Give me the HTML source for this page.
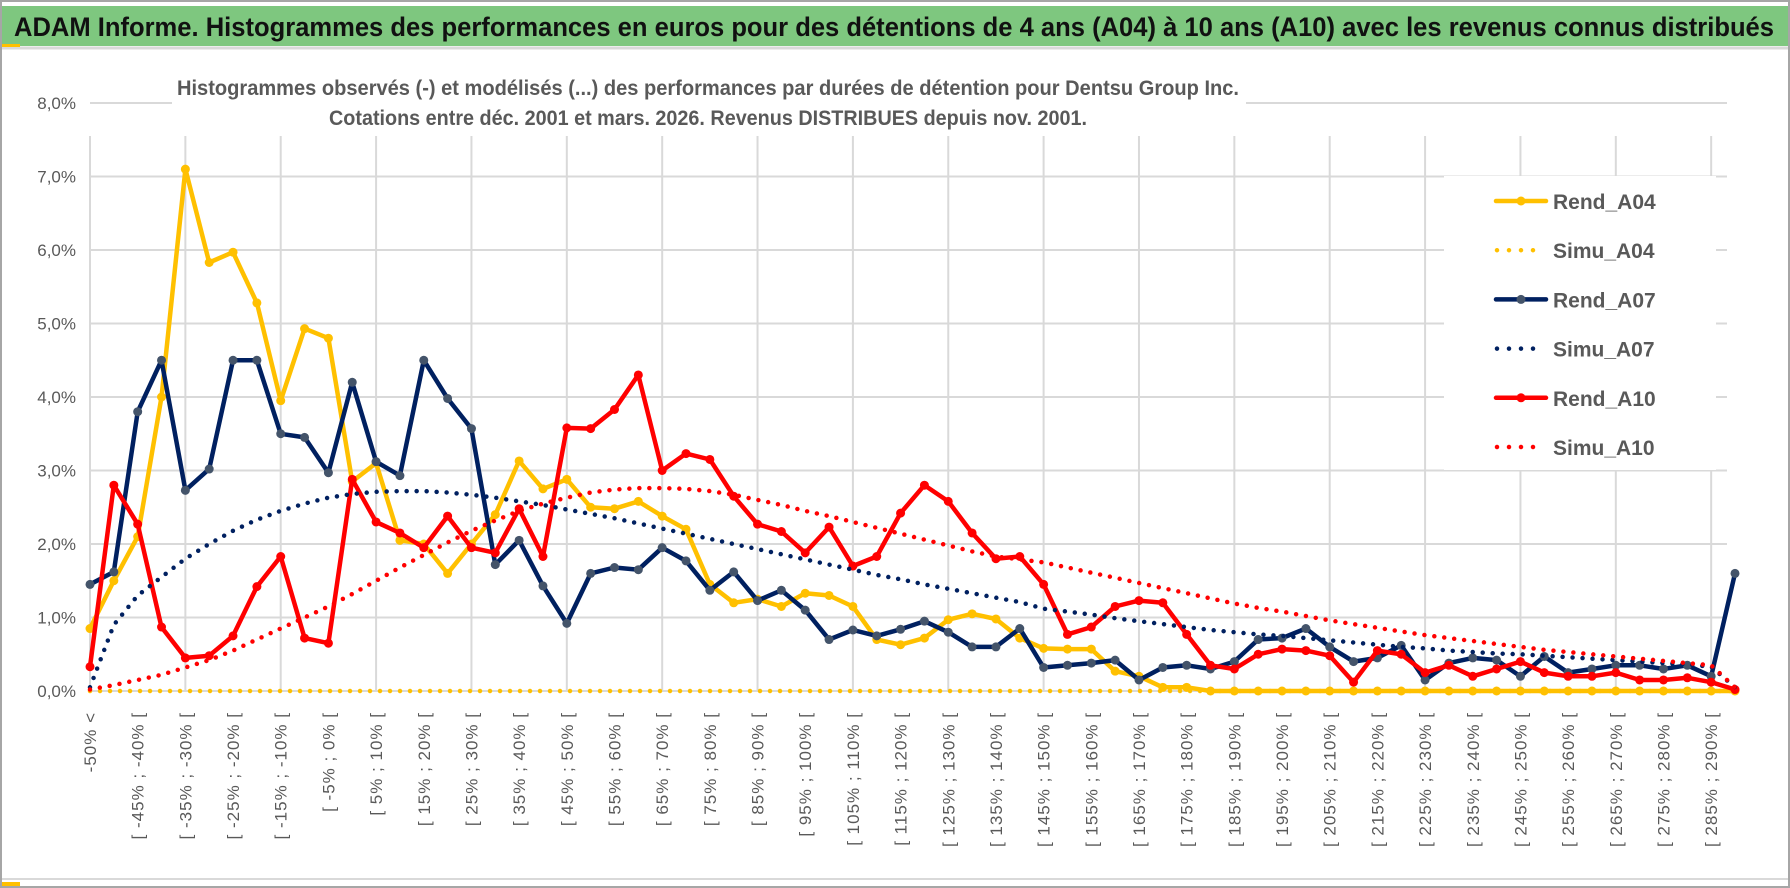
<!DOCTYPE html>
<html><head><meta charset="utf-8"><style>
html,body{margin:0;padding:0;background:#fff;width:1790px;height:888px;overflow:hidden}
svg{display:block}
</style></head><body>
<svg id="chart" width="1790" height="888" xmlns="http://www.w3.org/2000/svg">
<rect x="1" y="1" width="1788" height="886" fill="#fff" stroke="#a6a6a6" stroke-width="2"/>
<rect x="2" y="6" width="1786" height="40" fill="#7ec77f"/>
<line x1="2" y1="48" x2="1788" y2="48" stroke="#d9d9d9" stroke-width="3"/>
<rect x="2" y="44" width="18" height="3" fill="#ffc000"/>
<rect x="2" y="882" width="18" height="4" fill="#ffc000"/>
<line x1="2" y1="879" x2="1788" y2="879" stroke="#d9d9d9" stroke-width="2"/>
<text x="14" y="36" textLength="1760" lengthAdjust="spacingAndGlyphs" font-family="Liberation Sans Narrow, Liberation Sans, sans-serif" font-weight="bold" font-size="27" fill="#111">ADAM Informe. Histogrammes des performances en euros pour des détentions de 4 ans (A04) à 10 ans (A10) avec les revenus connus distribués</text>
<g id="grid"></g>
<rect x="172" y="62" width="1074" height="73" fill="#fff"/>
<text x="177" y="95" textLength="1062" lengthAdjust="spacingAndGlyphs" font-family="Liberation Sans Narrow, Liberation Sans, sans-serif" font-weight="bold" font-size="21" fill="#595959">Histogrammes observés (-) et modélisés (...) des performances par durées de détention pour Dentsu Group Inc.</text>
<text x="329" y="125" textLength="758" lengthAdjust="spacingAndGlyphs" font-family="Liberation Sans Narrow, Liberation Sans, sans-serif" font-weight="bold" font-size="21" fill="#595959">Cotations entre déc. 2001 et mars. 2026. Revenus DISTRIBUES depuis nov. 2001.</text>
<g id="yaxis"></g>
<g id="xaxis"></g>
<g id="series"></g>
<g id="legend"></g>
</svg>
<script>
const yTicks = [0,1,2,3,4,5,6,7,8];
const catLabels = ["-50% <","[ -50% ; -45% [","[ -45% ; -40% [","[ -40% ; -35% [","[ -35% ; -30% [","[ -30% ; -25% [","[ -25% ; -20% [","[ -20% ; -15% [","[ -15% ; -10% [","[ -10% ; -5% [","[ -5% ; 0% [","[ 0% ; 5% [","[ 5% ; 10% [","[ 10% ; 15% [","[ 15% ; 20% [","[ 20% ; 25% [","[ 25% ; 30% [","[ 30% ; 35% [","[ 35% ; 40% [","[ 40% ; 45% [","[ 45% ; 50% [","[ 50% ; 55% [","[ 55% ; 60% [","[ 60% ; 65% [","[ 65% ; 70% [","[ 70% ; 75% [","[ 75% ; 80% [","[ 80% ; 85% [","[ 85% ; 90% [","[ 90% ; 95% [","[ 95% ; 100% [","[ 100% ; 105% [","[ 105% ; 110% [","[ 110% ; 115% [","[ 115% ; 120% [","[ 120% ; 125% [","[ 125% ; 130% [","[ 130% ; 135% [","[ 135% ; 140% [","[ 140% ; 145% [","[ 145% ; 150% [","[ 150% ; 155% [","[ 155% ; 160% [","[ 160% ; 165% [","[ 165% ; 170% [","[ 170% ; 175% [","[ 175% ; 180% [","[ 180% ; 185% [","[ 185% ; 190% [","[ 190% ; 195% [","[ 195% ; 200% [","[ 200% ; 205% [","[ 205% ; 210% [","[ 210% ; 215% [","[ 215% ; 220% [","[ 220% ; 225% [","[ 225% ; 230% [","[ 230% ; 235% [","[ 235% ; 240% [","[ 240% ; 245% [","[ 245% ; 250% [","[ 250% ; 255% [","[ 255% ; 260% [","[ 260% ; 265% [","[ 265% ; 270% [","[ 270% ; 275% [","[ 275% ; 280% [","[ 280% ; 285% [","[ 285% ; 290% [","> 290%"];
const rendA04 = [0.85,1.5,2.1,4.0,7.1,5.83,5.97,5.28,3.95,4.93,4.8,2.85,3.1,2.05,2.0,1.6,2.0,2.4,3.13,2.75,2.88,2.5,2.48,2.58,2.38,2.2,1.45,1.2,1.25,1.15,1.33,1.3,1.15,0.7,0.63,0.72,0.97,1.05,0.98,0.72,0.58,0.57,0.57,0.27,0.2,0.05,0.05,0,0,0,0,0,0,0,0,0,0,0,0,0,0,0,0,0,0,0,0,0,0,0];
const simuA04 = [0,0,0,0,0,0,0,0,0,0,0,0,0,0,0,0,0,0,0,0,0,0,0,0,0,0,0,0,0,0,0,0,0,0,0,0,0,0,0,0,0,0,0,0,0,0,0,0,0,0,0,0,0,0,0,0,0,0,0,0,0,0,0,0,0,0,0,0,0,0];
const rendA07 = [1.45,1.62,3.8,4.5,2.73,3.02,4.5,4.5,3.5,3.45,2.97,4.2,3.12,2.93,4.5,3.98,3.57,1.72,2.05,1.43,0.92,1.6,1.68,1.65,1.95,1.77,1.37,1.62,1.23,1.37,1.1,0.7,0.83,0.75,0.84,0.95,0.8,0.6,0.6,0.85,0.32,0.35,0.38,0.42,0.15,0.32,0.35,0.3,0.4,0.7,0.72,0.85,0.6,0.4,0.45,0.62,0.15,0.38,0.45,0.42,0.2,0.47,0.25,0.3,0.35,0.35,0.3,0.35,0.2,1.6];
const simuA07 = [0.05,0.9,1.3,1.55,1.8,2.0,2.18,2.33,2.45,2.55,2.63,2.68,2.71,2.72,2.72,2.7,2.67,2.63,2.58,2.53,2.47,2.41,2.35,2.28,2.21,2.14,2.07,2.0,1.93,1.86,1.79,1.72,1.65,1.58,1.52,1.45,1.39,1.33,1.27,1.21,1.12,1.08,1.04,0.99,0.95,0.91,0.87,0.83,0.8,0.77,0.75,0.72,0.69,0.66,0.63,0.6,0.58,0.55,0.53,0.51,0.5,0.48,0.46,0.44,0.42,0.4,0.38,0.36,0.33,0.05];
const rendA10 = [0.33,2.8,2.27,0.87,0.45,0.48,0.75,1.42,1.83,0.72,0.65,2.88,2.3,2.15,1.95,2.38,1.95,1.88,2.48,1.83,3.58,3.57,3.83,4.3,3.0,3.23,3.15,2.65,2.27,2.17,1.88,2.23,1.7,1.83,2.42,2.8,2.58,2.15,1.8,1.83,1.45,0.77,0.87,1.15,1.23,1.2,0.77,0.35,0.3,0.5,0.57,0.55,0.48,0.12,0.55,0.5,0.25,0.35,0.2,0.3,0.4,0.25,0.2,0.2,0.25,0.15,0.15,0.18,0.12,0.02];
const simuA10 = [0.02,0.08,0.15,0.22,0.32,0.42,0.55,0.7,0.85,1.0,1.15,1.32,1.5,1.68,1.85,2.02,2.18,2.32,2.45,2.55,2.63,2.7,2.74,2.76,2.76,2.75,2.72,2.67,2.6,2.53,2.45,2.38,2.3,2.22,2.14,2.06,1.98,1.9,1.83,1.79,1.75,1.68,1.61,1.54,1.47,1.4,1.33,1.26,1.19,1.13,1.08,1.02,0.96,0.91,0.86,0.81,0.76,0.72,0.68,0.64,0.6,0.56,0.53,0.5,0.47,0.44,0.41,0.38,0.35,0.05];

const NS = "http://www.w3.org/2000/svg";
const X0 = 90, X1 = 1735, Y0 = 691, YPER = 73.5;
const n = catLabels.length;
function xs(i){ return X0 + i*(X1-X0)/(n-1); }
function ys(v){ return Y0 - v*YPER; }
function mk(tag, attrs, parent){ const e=document.createElementNS(NS,tag); for(const k in attrs) e.setAttribute(k,attrs[k]); parent.appendChild(e); return e; }

const grid = document.getElementById('grid');
yTicks.forEach(t=>{
  const l = mk('line',{x1:X0,x2:1727,y1:ys(t),y2:ys(t),stroke:'#d9d9d9','stroke-width':2},grid);
  
  
});
for(let i=0;i<n;i+=4){
  const l = mk('line',{x1:xs(i),x2:xs(i),y1:136,y2:Y0,stroke:'#d9d9d9','stroke-width':2},grid);
  
  
}
mk('rect',{x:1444,y:176,width:272,height:294,fill:'#fff'},grid);

const yaxis = document.getElementById('yaxis');
yTicks.forEach(t=>{
  const tx = mk('text',{x:76,y:ys(t)+6,'text-anchor':'end','font-family':'Liberation Sans Narrow, Liberation Sans, sans-serif','font-size':17,fill:'#595959'},yaxis);
  tx.textContent = t.toFixed(1).replace('.',',')+'%';
  
  
});

const xaxis = document.getElementById('xaxis');
for(let i=0;i<n-1;i+=2){
  const x = xs(i)+6, y=712;
  const tx = mk('text',{x:x,y:y,transform:`rotate(-90 ${x} ${y})`,'text-anchor':'end','font-family':'Liberation Sans, sans-serif','font-size':17,'letter-spacing':'1',fill:'#595959'},xaxis);
  tx.textContent = catLabels[i];
  
  
}

const series = document.getElementById('series');
function pts(arr){ return arr.map((v,i)=>xs(i).toFixed(1)+','+ys(v).toFixed(1)).join(' '); }
function dotted(arr,color,name){
  const p = mk('polyline',{points:pts(arr),fill:'none',stroke:color,'stroke-width':4.5,'stroke-linecap':'round','stroke-dasharray':'0 10'},series);
  
  
}
function solid(arr,color,mcolor,name){
  const p = mk('polyline',{points:pts(arr),fill:'none',stroke:color,'stroke-width':4.5,'stroke-linejoin':'round'},series);
  
  
  arr.forEach((v,i)=>{
    const c = mk('circle',{cx:xs(i),cy:ys(v),r:4.5,fill:mcolor},series);
    
    
  });
}
dotted(simuA04,'#ffc000','simu-a04-line');
solid(rendA04,'#ffc000','#ffc000','rend-a04-line');
solid(rendA07,'#002060','#44546a','rend-a07-line');
solid(rendA10,'#ff0000','#ff0000','rend-a10-line');
dotted(simuA07,'#002060','simu-a07-line');
dotted(simuA10,'#ff0000','simu-a10-line');

const legend = document.getElementById('legend');
const legNames = ['Rend_A04','Simu_A04','Rend_A07','Simu_A07','Rend_A10','Simu_A10'];
const legColors = ['#ffc000','#ffc000','#002060','#002060','#ff0000','#ff0000'];
const legMarker = ['#ffc000',null,'#44546a',null,'#ff0000',null];
legNames.forEach((nm,k)=>{
  const y = 201 + k*49.2;
  const g = mk('g',{},legend);
  
  
  if(legMarker[k]){
    mk('line',{x1:1496,x2:1546,y1:y,y2:y,stroke:legColors[k],'stroke-width':4.5,'stroke-linecap':'round'},g);
    mk('circle',{cx:1521,cy:y,r:4.5,fill:legMarker[k]},g);
  } else {
    mk('line',{x1:1497,x2:1545,y1:y,y2:y,stroke:legColors[k],'stroke-width':4.5,'stroke-linecap':'round','stroke-dasharray':'0 12'},g);
  }
  const t = mk('text',{x:1553,y:y+8,'font-family':'Liberation Sans Narrow, Liberation Sans, sans-serif','font-weight':'bold','font-size':21,fill:'#595959'},g);
  t.textContent = nm;
});
</script>
</body></html>
